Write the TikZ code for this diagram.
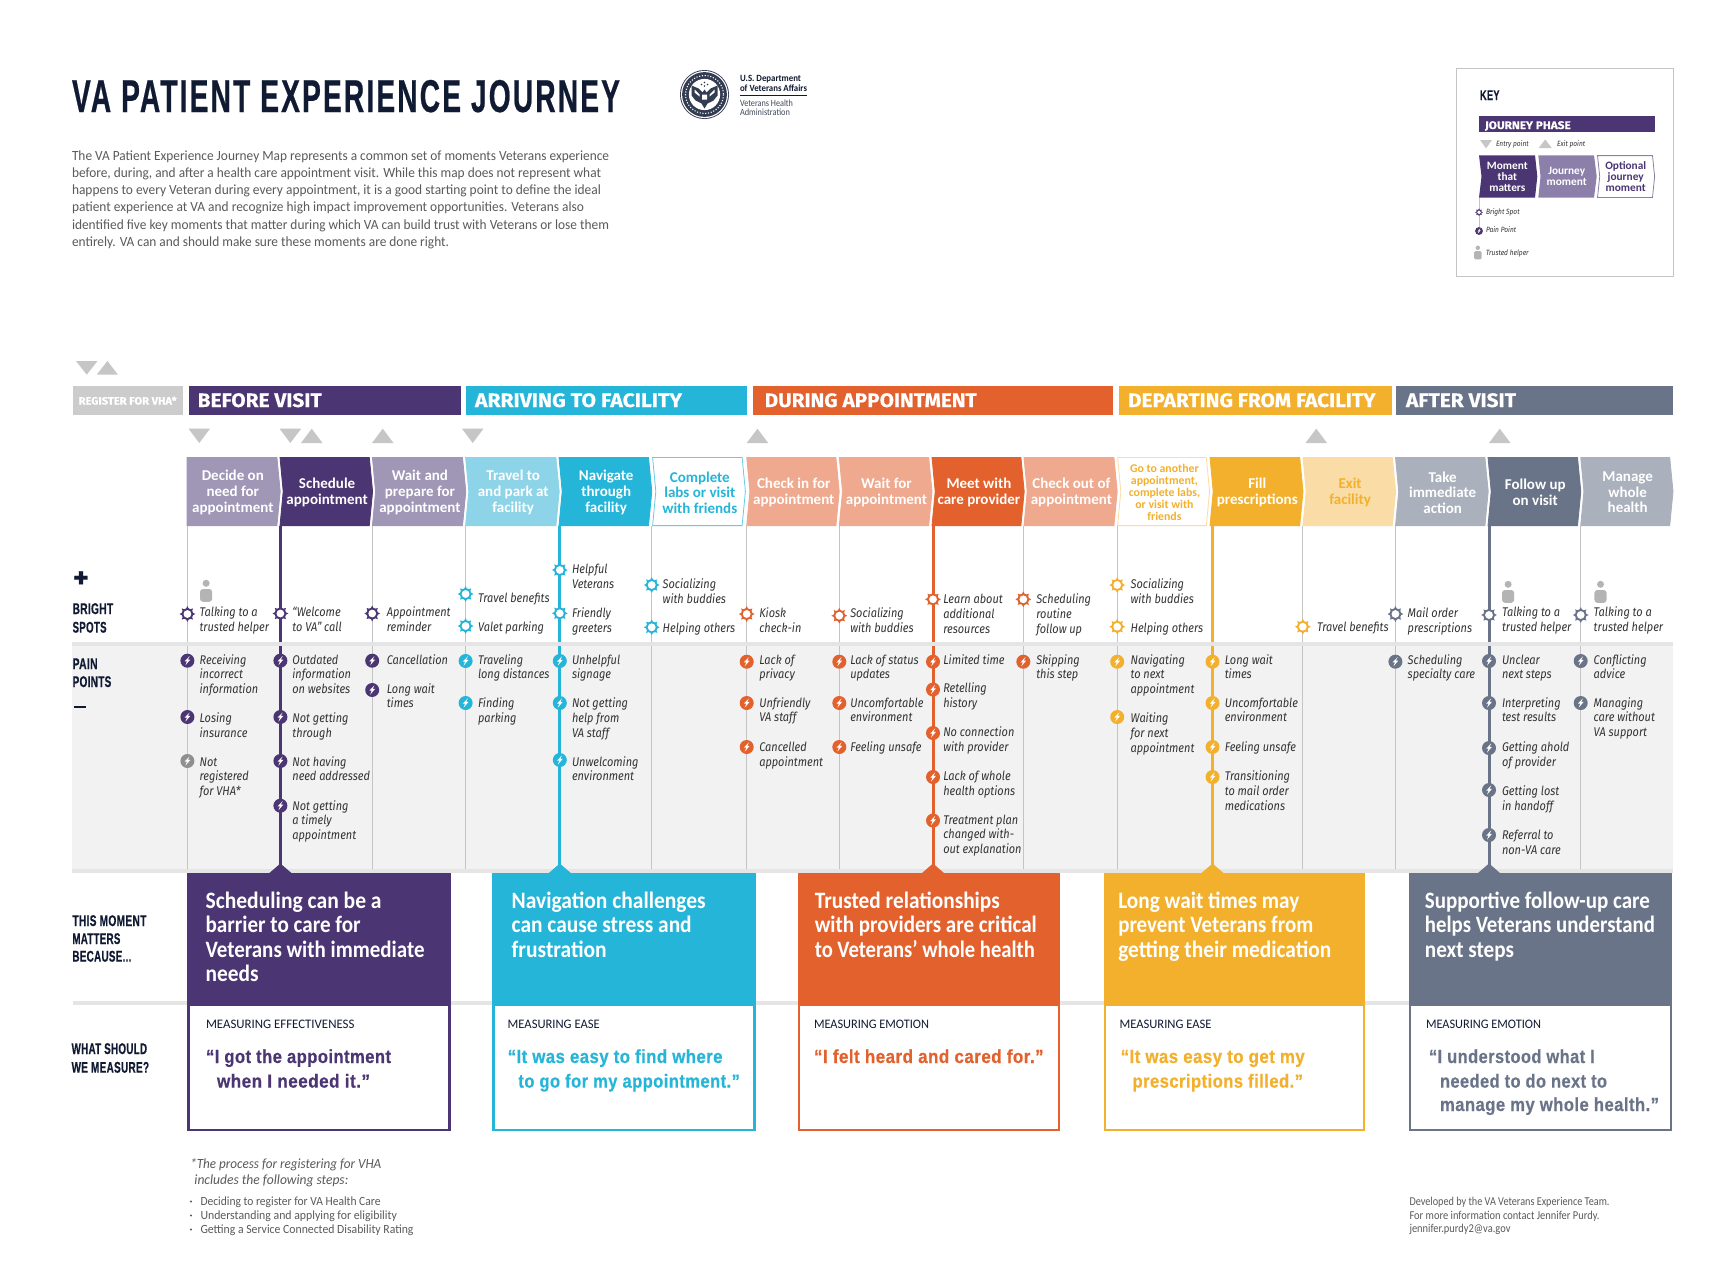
\documentclass[tikz,border=0pt]{standalone}
\usepackage{fontspec,graphicx}
\setmainfont{Carlito}
\newfontfamily\condf[FakeStretch=0.72,LetterSpace=2,FakeBold=0.4]{Liberation Sans}
\newfontfamily\titf[FakeStretch=0.66,LetterSpace=5,FakeBold=0.5]{Liberation Sans}
\newfontfamily\itf[FakeStretch=0.87]{Fira Sans}
\newfontfamily\headf[FakeBold=0.25]{Fira Sans}
\usetikzlibrary{calc}
\definecolor{navy}{HTML}{101A33}
\definecolor{bodyg}{HTML}{5A5A5A}
\definecolor{itxt}{HTML}{333333}
\definecolor{markg}{HTML}{C6C6C6}
\definecolor{lineg}{HTML}{C4C4C4}
\definecolor{bandg}{HTML}{E5E5E5}
\definecolor{paleg}{HTML}{F2F2F2}
\definecolor{purpD}{HTML}{4B3572}
\definecolor{purpL}{HTML}{A096B6}
\definecolor{purpM}{HTML}{8C80AB}
\definecolor{cyanD}{HTML}{25B5D8}
\definecolor{cyanL}{HTML}{8DD4E8}
\definecolor{oranD}{HTML}{E2612D}
\definecolor{oranL}{HTML}{EEA98F}
\definecolor{yellD}{HTML}{F2B02D}
\definecolor{yellL}{HTML}{FADCA6}
\definecolor{slatD}{HTML}{6A7488}
\definecolor{slatL}{HTML}{ABB1BC}
\definecolor{noreg}{HTML}{8F8F8F}
\definecolor{persg}{HTML}{B4B4B4}
\newcounter{nn}
\newcommand{\xfit}[2]{\resizebox{#1pt}{\height}{#2}}
% free text: x, first baseline, style, lines
\newcommand{\tl}[4]{\stepcounter{nn}\node[txt,#3,name=t\arabic{nn}] at (#1,#2) {\begin{tabular}[t]{@{}l@{}}#4\end{tabular}};}
\tikzset{
  txt/.style={anchor=base west,inner sep=0pt,outer sep=0pt},
  ital/.style={font=\itf\itshape\fontsize{12.6}{14.7}\selectfont,text=itxt},
  cardtxt/.style={font=\bfseries\fontsize{23.5}{24.4}\selectfont,text=white},
  meas/.style={font=\fontsize{13}{15}\selectfont,text=navy},
  quot/.style={font=\condf\bfseries\fontsize{19}{24.4}\selectfont},
  side/.style={font=\condf\bfseries\fontsize{15.5}{18.3}\selectfont,text=navy},
  phase/.style={font=\headf\bfseries\fontsize{19.5}{21}\selectfont,text=white},
  chevtxt/.style={inner sep=0pt,align=center,font=\bfseries\fontsize{15}{15.6}\selectfont},
}
\newcommand{\chev}[8]{%
  \path[fill=#4,draw=#5,line width=.8pt] (#1,457.4)--(#2-2.7,457.4)--(#2+.6,491.5)--(#2-2.7,525.6)--(#1,525.6)--(#1+#3,491.5)--cycle;
  \stepcounter{nn}\node[chevtxt,text=#6,name=c\arabic{nn},#7] at ({(#1+#3+#2)/2-.5},492.5) {#8};}
\newcommand{\dn}[1]{\fill[markg] (#1,428.7)--(#1+21.5,428.7)--(#1+10.75,443)--cycle;}
\newcommand{\up}[1]{\fill[markg] (#1,443)--(#1+21.5,443)--(#1+10.75,428.7)--cycle;}
\newcommand{\bico}[4][1]{%
  \begin{scope}[shift={(#2,#3)},scale=#1]
   \fill[#4] (0,0) circle (5.7);
   \foreach \a in {0,45,...,315}{\fill[#4] (\a-17:5.2)--(\a:7.9)--(\a+17:5.2)--cycle;}
   \fill[white] (0,0) circle (3.9);
  \end{scope}}
\newcommand{\pico}[4][1]{%
  \begin{scope}[shift={(#2,#3)},scale=#1]
   \fill[#4] (0,0) circle (7);
   \fill[white] (2.2,-4.6)--(-2.9,.7)--(-.5,.7)--(-2,4.6)--(2.9,-1.1)--(.5,-1.1)--cycle;
  \end{scope}}
\newcommand{\person}[2]{%
  \fill[persg] (#1+6.1,#2+3.3) circle (3.5);
  \fill[persg,rounded corners=3pt] (#1,#2+9) rectangle (#1+12.2,#2+21.8);}
\newcommand{\br}[3]{\bico{\lx}{#1}{\cc}\tl{\tx}{#2}{ital}{#3}}
\newcommand{\pn}[3]{\pico{\lx}{#1}{\cc}\tl{\tx}{#2}{ital}{#3}}
\newcommand{\col}[3]{\def\lx{#1}\def\tx{#2}\def\cc{#3}}
\begin{document}
\begin{tikzpicture}[x=1pt,y=-1pt]
\useasboundingbox (0,0) rectangle (1728,1266);
\fill[white] (0,0) rectangle (1728,1266);

% ---------- header
\tl{72}{112}{font=\titf\bfseries\fontsize{46}{50}\selectfont,text=navy}{\xfit{548}{VA PATIENT EXPERIENCE JOURNEY}}
\tl{72}{160}{font=\fontsize{14}{17.3}\selectfont,text=bodyg}{%
\xfit{537}{The VA Patient Experience Journey Map represents a common set of moments Veterans experience}\\
\xfit{529}{before, during, and after a health care appointment visit. While this map does not represent what}\\
\xfit{529}{happens to every Veteran during every appointment, it is a good starting point to define the ideal}\\
\xfit{512}{patient experience at VA and recognize high impact improvement opportunities. Veterans also}\\
\xfit{537}{identified five key moments that matter during which VA can build trust with Veterans or lose them}\\
\xfit{377}{entirely. VA can and should make sure these moments are done right.}}

% seal
\begin{scope}[shift={(704.5,94.5)}]
\fill[navy!85!white] (0,0) circle (24.5);
\fill[white] (0,0) circle (23.6);
\fill[navy!85!white] (0,0) circle (22.4);
\draw[white,line width=1.1pt,dash pattern=on 1.1pt off 1.7pt] (0,0) circle (19);
\fill[white] (0,0) circle (15.6);
\fill[navy!85!white] (-2,-2)--(-6,-6)--(-13,-9)--(-13,1)--(-9,6)--(-3,9)--(0,14)--(3,9)--(9,6)--(13,1)--(13,-9)--(6,-6)--(2,-2)--(0,-5)--cycle;
\fill[white] (-10,-5)--(-5,0)--(-5,2)--(-10,-2)--cycle (10,-5)--(5,0)--(5,2)--(10,-2)--cycle (-2.5,0) rectangle (2.5,5);
\foreach \p in {(0,-12),(-3,-10),(3,-10),(0,-8.5)}{\fill[navy!85!white] \p circle (.9);}
\end{scope}
\tl{740}{81.7}{font=\bfseries\fontsize{9.5}{10}\selectfont,text=navy}{\xfit{61}{U.S. Department}}
\tl{740}{91.7}{font=\bfseries\fontsize{9.5}{10}\selectfont,text=navy}{\xfit{67}{of Veterans Affairs}}
\draw[navy,line width=.8pt] (740,95.3)--(807,95.3);
\tl{740}{106}{font=\fontsize{9.5}{9.5}\selectfont,text=navy!80}{\xfit{53}{Veterans Health}}
\tl{740}{115.3}{font=\fontsize{9.5}{9.5}\selectfont,text=navy!80}{\xfit{50}{Administration}}

% ---------- key
\draw[lineg,line width=1pt] (1456.3,68.7) rectangle (1673.7,276.7);
\tl{1480}{100}{font=\condf\bfseries\fontsize{14}{15}\selectfont,text=navy}{\xfit{19.5}{KEY}}
\fill[purpD] (1479,116) rectangle (1654.7,132.3);
\tl{1485}{129}{font=\headf\bfseries\fontsize{11}{12}\selectfont,text=white}{\xfit{85.7}{JOURNEY PHASE}}
\fill[markg] (1480,140)--(1492,140)--(1486,148.3)--cycle;
\tl{1496}{146}{font=\itf\itshape\fontsize{7.6}{8}\selectfont,text=itxt}{Entry point}
\fill[markg] (1538.7,148)--(1551.7,148)--(1545.2,139.5)--cycle;
\tl{1557}{146.7}{font=\itf\itshape\fontsize{7.6}{8}\selectfont,text=itxt}{Exit point}
\draw[lineg,line width=.8pt] (1479,197.7)--(1479,231);
\path[fill=purpD] (1479,155.3)--(1535,155.3)--(1537.3,176.5)--(1535,197.7)--(1479,197.7)--(1481.5,176.5)--cycle;
\path[fill=purpM] (1538.3,155.3)--(1594,155.3)--(1596.7,176.5)--(1594,197.7)--(1538.3,197.7)--(1540.5,176.5)--cycle;
\path[fill=white,draw=purpM,line width=.8pt] (1597.5,155.6)--(1652.5,155.6)--(1654.6,176.5)--(1652.5,197.4)--(1597.5,197.4)--(1599.7,176.5)--cycle;
\tikzset{keytxt/.style={inner sep=0pt,align=center,font=\bfseries\fontsize{11.3}{11}\selectfont}}
\node[keytxt,text=white] (kc1) at (1507.3,176.5) {Moment\\that\\matters};
\node[keytxt,text=white] (kc2) at (1566.7,176.5) {Journey\\moment};
\node[keytxt,text=purpD] (kc3) at (1625.7,176.5) {Optional\\journey\\moment};
\bico[.5]{1479}{212.3}{purpD}
\pico[.56]{1479}{231}{purpD}
\fill[persg] (1477.8,247.8) circle (2.2);
\fill[persg,rounded corners=1.5pt] (1474,251) rectangle (1481.7,259.3);
\tl{1486}{214}{font=\itf\itshape\fontsize{7.6}{8}\selectfont,text=itxt}{Bright Spot}
\tl{1486}{232.7}{font=\itf\itshape\fontsize{7.6}{8}\selectfont,text=itxt}{Pain Point}
\tl{1486}{255.3}{font=\itf\itshape\fontsize{7.6}{8}\selectfont,text=itxt}{Trusted helper}

% ---------- phase bars
\fill[markg] (76,361)--(97.5,361)--(86.75,374.7)--cycle;
\fill[markg] (96.7,374.7)--(118,374.7)--(107.4,361)--cycle;
\fill[markg!90!white] (72.6,386) rectangle (183,415);
\fill[purpD] (188.5,386) rectangle (461,415);
\fill[cyanD] (465.6,386) rectangle (747,415);
\fill[oranD] (752.7,386) rectangle (1113,415);
\fill[yellD] (1119,386) rectangle (1391.6,415);
\fill[slatD] (1396,386) rectangle (1673,415);
\tl{78.7}{404.5}{font=\headf\bfseries\fontsize{10.5}{11}\selectfont,text=white}{\xfit{98}{REGISTER FOR VHA*}}
\tl{197.7}{407}{phase}{\xfit{124}{BEFORE VISIT}}
\tl{475}{407}{phase}{\xfit{207}{ARRIVING TO FACILITY}}
\tl{764.7}{407}{phase}{\xfit{212}{DURING APPOINTMENT}}
\tl{1128}{407}{phase}{\xfit{247.5}{DEPARTING FROM FACILITY}}
\tl{1406}{407}{phase}{\xfit{110}{AFTER VISIT}}

% entry / exit marks
\dn{188.5} \dn{279.6} \up{301} \up{372} \dn{462} \up{746.7} \up{1305.5} \up{1489}

% ---------- pain section background and bands
\fill[paleg] (72,646) rectangle (1673,868.5);
\fill[bandg] (72,642) rectangle (1673,646);
\fill[bandg] (72,868.5) rectangle (1673,873);
\fill[bandg] (73,1000.5) rectangle (1672,1005);

% vertical lines
\foreach \x in {187.4,372.2,465.6,651.7,746.7,839.3,1023.3,1117.2,1302.8,1395.4,1580.7}{
  \draw[lineg,line width=1pt] (\x,526)--(\x,642) (\x,646)--(\x,868.5);}
\foreach \x/\c in {280.4/purpD,559.8/cyanD,933/oranD,1212.5/yellD,1489/slatD}{
  \draw[\c,line width=3pt] (\x,526)--(\x,642) (\x,646)--(\x,866);
  \fill[\c] (\x-11,873)--(\x,863.5)--(\x+11,873)--cycle;}

% ---------- chevrons
\chev{187}{279.6}{0}{purpL}{purpL}{white}{}{Decide on\\need for\\appointment}
\chev{280}{372}{3.2}{purpD}{purpD}{white}{}{Schedule\\appointment}
\chev{372.4}{465.2}{3.2}{purpL}{purpL}{white}{}{Wait and\\prepare for\\appointment}
\chev{465.6}{558.6}{3.2}{cyanL}{cyanL}{white}{}{Travel to\\and park at\\facility}
\chev{559}{651.2}{3.2}{cyanD}{cyanD}{white}{}{Navigate\\through\\facility}
\chev{652.6}{744.8}{3.2}{white}{cyanD!70}{cyanD}{}{Complete\\labs or visit\\with friends}
\chev{746.7}{838.6}{3.2}{oranL}{oranL}{white}{}{Check in for\\appointment}
\chev{839.3}{931.4}{3.2}{oranL}{oranL}{white}{}{Wait for\\appointment}
\chev{932}{1023.6}{3.2}{oranD}{oranD}{white}{}{Meet with\\care provider}
\chev{1024}{1116.6}{3.2}{oranL}{oranL}{white}{}{Check out of\\appointment}
\chev{1117.6}{1209}{3.2}{white}{yellL}{yellD}{font=\bfseries\fontsize{11.8}{12}\selectfont}{Go to another\\appointment,\\complete labs,\\or visit with\\friends}
\chev{1210}{1302.4}{3.2}{yellD}{yellD}{white}{}{Fill\\prescriptions}
\chev{1303}{1395}{3.2}{yellL}{yellL}{yellD}{}{Exit\\facility}
\chev{1395.5}{1487.6}{3.2}{slatL}{slatL}{white}{}{Take\\immediate\\action}
\chev{1488}{1580.2}{3.2}{slatD}{slatD}{white}{}{Follow up\\on visit}
\chev{1580.7}{1672.4}{3.2}{slatL}{slatL}{white}{}{Manage\\whole\\health}

% ---------- side labels
\node[inner sep=0pt,font=\headf\bfseries\fontsize{30}{30}\selectfont,text=navy] (plus) at (81,579.5) {+};
\tl{72.6}{614}{side}{\xfit{40.6}{BRIGHT}}
\tl{72.6}{632.6}{side}{\xfit{34}{SPOTS}}
\tl{72.6}{669}{side}{\xfit{25}{PAIN}}
\tl{72.6}{687}{side}{\xfit{38.7}{POINTS}}
\fill[navy] (74,705.8) rectangle (85.6,708.2);
\tl{72.4}{926}{side}{\xfit{74}{THIS MOMENT}}
\tl{72.4}{944}{side}{\xfit{48}{MATTERS}}
\tl{72.4}{961.6}{side}{\xfit{59}{BECAUSE...}}
\tl{71.6}{1054}{side}{\xfit{75.5}{WHAT SHOULD}}
\tl{71.6}{1072.7}{side}{\xfit{77.5}{WE MEASURE?}}

% ---------- column 1
\col{187.4}{199.6}{purpD}
\person{200}{580}
\br{614}{616.3}{Talking to a\\trusted helper}
\pn{660.7}{664}{Receiving\\incorrect\\information}
\pn{717}{722.7}{Losing\\insurance}
\def\cc{noreg}\pn{761}{766}{Not\\registered\\for VHA*}
% column 2
\col{280.4}{292.4}{purpD}
\br{613.5}{616.7}{“Welcome\\to VA” call}
\pn{660.7}{664}{Outdated\\information\\on websites}
\pn{717}{722.7}{Not getting\\through}
\pn{761}{766}{Not having\\need addressed}
\pn{805.7}{810}{Not getting\\a timely\\appointment}
% column 3
\col{372.2}{386.8}{purpD}
\br{613.5}{616.7}{Appointment\\reminder}
\pn{660.7}{664}{Cancellation}
\pn{690}{693}{Long wait\\times}
% column 4
\col{465.6}{478}{cyanD}
\br{594}{602.7}{Travel benefits}
\br{626}{631.7}{Valet parking}
\pn{661}{664}{Traveling\\long distances}
\pn{703}{707.7}{Finding\\parking}
% column 5
\col{559.8}{572}{cyanD}
\br{570}{573.3}{Helpful\\Veterans}
\br{613.3}{617.3}{Friendly\\greeters}
\pn{661}{664}{Unhelpful\\signage}
\pn{703}{707.7}{Not getting\\help from\\VA staff}
\pn{760}{766}{Unwelcoming\\environment}
% column 6
\col{651.7}{662.7}{cyanD}
\br{585}{588.3}{Socializing\\with buddies}
\br{627.3}{632.3}{Helping others}
% column 7
\col{746.7}{759.3}{oranD}
\br{614}{617.7}{Kiosk\\check-in}
\pn{661.7}{664}{Lack of\\privacy}
\pn{703}{707}{Unfriendly\\VA staff}
\pn{747}{751.7}{Cancelled\\appointment}
% column 8
\col{839.3}{850.3}{oranD}
\br{615.7}{617.7}{Socializing\\with buddies}
\pn{661.7}{664}{Lack of status\\updates}
\pn{703}{707}{Uncomfortable\\environment}
\pn{747}{751.7}{Feeling unsafe}
% column 9
\col{933}{943.3}{oranD}
\br{599.3}{603.7}{Learn about\\additional\\resources}
\pn{661.7}{664}{Limited time}
\pn{689.5}{692.7}{Retelling\\history}
\pn{733}{736.7}{No connection\\with provider}
\pn{777}{780.7}{Lack of whole\\health options}
\pn{820.5}{824}{Treatment plan\\changed with-\\out explanation}
% column 10
\col{1023.3}{1036.3}{oranD}
\br{599.3}{603.7}{Scheduling\\routine\\follow up}
\pn{661.7}{664}{Skipping\\this step}
% column 11
\col{1117.2}{1130.6}{yellD}
\br{585}{588.3}{Socializing\\with buddies}
\br{626.7}{632.3}{Helping others}
\pn{661.7}{664}{Navigating\\to next\\appointment}
\pn{717}{722.7}{Waiting\\for next\\appointment}
% column 12
\col{1212.5}{1224.8}{yellD}
\pn{661.7}{664}{Long wait\\times}
\pn{703}{707}{Uncomfortable\\environment}
\pn{747}{751.7}{Feeling unsafe}
\pn{777}{780.7}{Transitioning\\to mail order\\medications}
% column 13
\col{1302.8}{1317}{yellD}
\br{626.7}{631.7}{Travel benefits}
% column 14
\col{1395.4}{1407.7}{slatD}
\br{614}{617.7}{Mail order\\prescriptions}
\pn{661.7}{664}{Scheduling\\specialty care}
% column 15
\col{1489}{1502}{slatD}
\person{1502}{581}
\br{615}{616.7}{Talking to a\\trusted helper}
\pn{661}{664}{Unclear\\next steps}
\pn{703}{707}{Interpreting\\test results}
\pn{748}{751.7}{Getting ahold\\of provider}
\pn{790}{795.7}{Getting lost\\in handoff}
\pn{835}{839.7}{Referral to\\non-VA care}
% column 16
\col{1580.7}{1593.7}{slatD}
\person{1594.4}{581}
\br{615}{616.7}{Talking to a\\trusted helper}
\pn{661}{664}{Conflicting\\advice}
\pn{703}{707}{Managing\\care without\\VA support}

% ---------- cards
\foreach \a/\b/\c in {187.2/450.5/purpD,492.3/755.6/cyanD,798/1060/oranD,1103.5/1365/yellD,1409/1672/slatD}{
  \fill[\c] (\a,873) rectangle (\b,1006);
  \draw[\c,line width=2.4pt,fill=white] (\a+1.2,1005) rectangle (\b-1.2,1129.8);
}
\tl{205.6}{908.3}{cardtxt}{\xfit{176}{Scheduling can be a}\\\xfit{155}{barrier to care for}\\\xfit{219}{Veterans with immediate}\\\xfit{53}{needs}}
\tl{511.7}{908.3}{cardtxt}{\xfit{194}{Navigation challenges}\\\xfit{180}{can cause stress and}\\\xfit{95}{frustration}}
\tl{814.8}{908.3}{cardtxt}{\xfit{185}{Trusted relationships}\\\xfit{222}{with providers are critical}\\\xfit{220}{to Veterans’ whole health}}
\tl{1118.3}{908.3}{cardtxt}{\xfit{181}{Long wait times may}\\\xfit{195}{prevent Veterans from}\\\xfit{213}{getting their medication}}
\tl{1424.9}{908.3}{cardtxt}{\xfit{225}{Supportive follow-up care}\\\xfit{230}{helps Veterans understand}\\\xfit{89}{next steps}}

\tl{206}{1028.7}{meas}{\xfit{148.5}{MEASURING EFFECTIVENESS}}
\tl{507.7}{1028.7}{meas}{\xfit{92}{MEASURING EASE}}
\tl{814}{1028.7}{meas}{\xfit{115}{MEASURING EMOTION}}
\tl{1119.5}{1028.7}{meas}{\xfit{92}{MEASURING EASE}}
\tl{1426}{1028.7}{meas}{\xfit{115}{MEASURING EMOTION}}

\tl{206}{1063}{quot,text=purpD}{\xfit{185}{“I got the appointment}}
\tl{217}{1087.6}{quot,text=purpD}{\xfit{153}{when I needed it.”}}
\tl{507.7}{1063}{quot,text=cyanD}{\xfit{214.8}{“It was easy to find where}}
\tl{518.4}{1087.6}{quot,text=cyanD}{\xfit{221.5}{to go for my appointment.”}}
\tl{814}{1063}{quot,text=oranD}{\xfit{229.6}{“I felt heard and cared for.”}}
\tl{1120.7}{1063}{quot,text=yellD}{\xfit{184}{“It was easy to get my}}
\tl{1132.5}{1087.6}{quot,text=yellD}{\xfit{170.5}{prescriptions filled.”}}
\tl{1429}{1063}{quot,text=slatD}{\xfit{165.7}{“I understood what I}}
\tl{1440}{1087.6}{quot,text=slatD}{\xfit{167}{needed to do next to}}
\tl{1440}{1111}{quot,text=slatD}{\xfit{219}{manage my whole health.”}}

% ---------- footnotes
\tl{190.3}{1168.3}{font=\itshape\fontsize{14}{16}\selectfont,text=bodyg}{\xfit{191}{*The process for registering for VHA}}
\tl{194.4}{1184.3}{font=\itshape\fontsize{14}{16}\selectfont,text=bodyg}{\xfit{154}{includes the following steps:}}
\foreach \y in {1201.5,1215.5,1229.5}{\fill[bodyg] (191,\y) circle (1.1);}
\tl{200.5}{1205}{font=\fontsize{12.5}{14}\selectfont,text=bodyg}{\xfit{180}{Deciding to register for VA Health Care}}
\tl{200.5}{1219}{font=\fontsize{12.5}{14}\selectfont,text=bodyg}{\xfit{196.5}{Understanding and applying for eligibility}}
\tl{200.5}{1233}{font=\fontsize{12.5}{14}\selectfont,text=bodyg}{\xfit{213}{Getting a Service Connected Disability Rating}}
\tl{1409.5}{1205}{font=\fontsize{12}{14}\selectfont,text=bodyg}{\xfit{200}{Developed by the VA Veterans Experience Team.}}
\tl{1409.5}{1219}{font=\fontsize{12}{14}\selectfont,text=bodyg}{\xfit{190}{For more information contact Jennifer Purdy.}}
\tl{1409.5}{1232.3}{font=\fontsize{12}{14}\selectfont,text=bodyg}{\xfit{101}{jennifer.purdy2@va.gov}}
\end{tikzpicture}
\end{document}
